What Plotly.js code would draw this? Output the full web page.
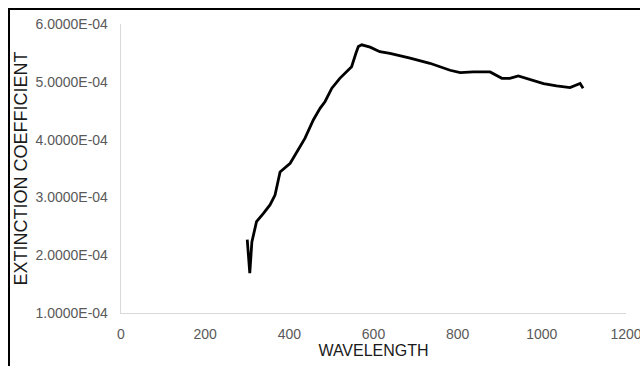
<!DOCTYPE html>
<html>
<head>
<meta charset="utf-8">
<script src="https://cdn.plot.ly/plotly-3.0.1.min.js"></script>
<style>
html,body{margin:0;padding:0;background:#fff;}
#wrap{position:relative;width:640px;height:366px;overflow:hidden;}
#chart{width:640px;height:366px;}
#bt{position:absolute;left:8px;top:8px;width:632px;height:2px;background:#000;}
#bl{position:absolute;left:8px;top:8px;width:2px;height:358px;background:#000;}
</style>
</head>
<body>
<div id="wrap"><div id="chart"></div><div id="bt"></div><div id="bl"></div></div>
<script>
const wavelength = [300, 306, 311, 322, 338, 354, 366, 370, 378, 402, 418, 437, 457, 473, 485, 501, 520, 548, 558, 564, 572, 592, 615, 639, 687, 734, 782, 806, 837, 877, 905, 924, 944, 972, 1004, 1035, 1067, 1091, 1098];
const extinction = [2.27e-4, 1.69e-4, 2.23e-4, 2.58e-4, 2.72e-4, 2.87e-4, 3.04e-4, 3.16e-4, 3.44e-4, 3.59e-4, 3.79e-4, 4.02e-4, 4.34e-4, 4.54e-4, 4.66e-4, 4.89e-4, 5.06e-4, 5.26e-4, 5.49e-4, 5.61e-4, 5.64e-4, 5.60e-4, 5.52e-4, 5.49e-4, 5.41e-4, 5.32e-4, 5.20e-4, 5.16e-4, 5.17e-4, 5.17e-4, 5.06e-4, 5.06e-4, 5.10e-4, 5.04e-4, 4.97e-4, 4.93e-4, 4.90e-4, 4.97e-4, 4.89e-4];
const yTickVals = [1e-4, 2e-4, 3e-4, 4e-4, 5e-4, 6e-4];
const yTickText = ["1.0000E-04", "2.0000E-04", "3.0000E-04", "4.0000E-04", "5.0000E-04", "6.0000E-04"];
const xTickVals = [0, 200, 400, 600, 800, 1000, 1200];

const font = "Liberation Sans, Arial, sans-serif";
Plotly.newPlot('chart', [{
  x: wavelength, y: extinction, type: 'scatter', mode: 'lines',
  line: {color: '#000', width: 2.8}, hoverinfo: 'skip'
}], {
  width: 640, height: 366,
  margin: {l: 121, r: 14, t: 24, b: 53},
  paper_bgcolor: '#fff', plot_bgcolor: '#fff',
  showlegend: false,
  font: {family: font, color: '#595959', size: 14},
  xaxis: {
    range: [0, 1200], tickvals: xTickVals, ticks: '', showgrid: false, zeroline: false,
    showline: true, linecolor: '#d9d9d9', linewidth: 1.3,
    tickfont: {size: 14, color: '#595959'}, ticklabelstandoff: 8, ticklabeloverflow: 'allow',
    title: {text: 'WAVELENGTH', font: {size: 16, color: '#1a1a1a'}, standoff: 2}
  },
  yaxis: {
    range: [1e-4, 6e-4], tickvals: yTickVals, ticktext: yTickText, ticks: '', showgrid: false, zeroline: false,
    showline: true, linecolor: '#d9d9d9', linewidth: 1.3,
    tickfont: {size: 14, color: '#595959'}, ticklabelstandoff: 9,
    title: {text: 'EXTINCTION COEFFICIENT', font: {size: 18, color: '#1a1a1a'}, standoff: 3}
  }
}, {displayModeBar: false, staticPlot: true});
</script>
</body>
</html>
